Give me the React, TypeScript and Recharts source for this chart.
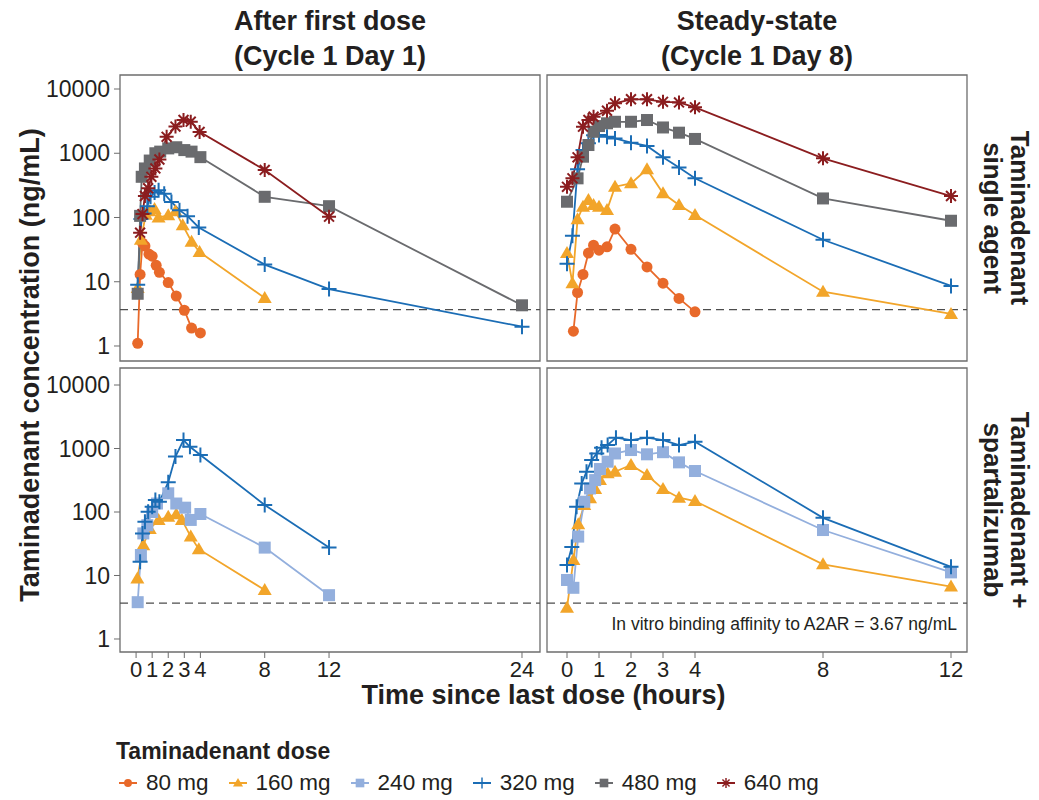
import React from 'react';
import { LineChart, Line, XAxis, YAxis, ReferenceLine, ReferenceArea } from 'recharts';

const FONT = '"Liberation Sans", Arial, sans-serif';
const INK = '#231f20';
const FRAME = '#6d6d6d';

const doseLabels = ['80 mg', '160 mg', '240 mg', '320 mg', '480 mg', '640 mg'];
const doseColors = ['#E8692A', '#F2A52A', '#93AFDD', '#1B6DB5', '#6A6B6E', '#8B1D1F'];
const doseShapes = ['circle', 'triangle', 'square', 'plus', 'square', 'star'];

const bindingAffinity = 3.67;
const yTicks = [1, 10, 100, 1000, 10000];
const xTicksDay1 = [0, 1, 2, 3, 4, 8, 12, 24];
const xTicksDay8 = [0, 1, 2, 3, 4, 8, 12];

// after first dose, single agent
const d1SoloTime80 = [0.1, 0.25, 0.4, 0.55, 0.8, 1.0, 1.25, 1.45, 2, 2.5, 3, 3.45, 4];
const d1SoloConc80 = [1.1, 13, 40, 36, 27, 25, 18, 14, 9.7, 6, 3.6, 1.9, 1.6];
const d1SoloTime160 = [0.1, 0.3, 0.6, 0.85, 1.15, 1.4, 2, 2.45, 2.9, 3.45, 3.95, 8];
const d1SoloConc160 = [8, 45, 110, 125, 136, 100, 108, 125, 76, 42, 29, 5.6];
const d1SoloTime320 = [0.1, 0.3, 0.5, 0.7, 0.9, 1.15, 1.4, 1.75, 2.2, 2.7, 3.2, 3.9, 8, 12, 24];
const d1SoloConc320 = [9, 95, 115, 150, 210, 245, 265, 235, 175, 130, 105, 70, 18.5, 7.7, 2.0];
const d1SoloTime480 = [0.1, 0.25, 0.35, 0.55, 0.85, 1.2, 1.5, 2, 2.5, 3, 3.45, 4, 8, 12, 24];
const d1SoloConc480 = [6.5, 106, 430, 580, 770, 1000, 1060, 1190, 1240, 1120, 1060, 870, 210, 150, 4.3];
const d1SoloTime640 = [0.25, 0.4, 0.55, 0.75, 0.95, 1.2, 1.45, 1.9, 2.45, 2.95, 3.4, 3.95, 8, 12];
const d1SoloConc640 = [58, 113, 216, 285, 430, 580, 800, 1800, 2600, 3300, 3100, 2150, 550, 103];

// steady state, single agent
const d8SoloTime80 = [0.2, 0.33, 0.5, 0.67, 0.83, 1.0, 1.25, 1.5, 2, 2.5, 3, 3.5, 4];
const d8SoloConc80 = [1.7, 6.8, 13, 28, 37, 31, 35, 66, 32, 17, 9.5, 5.5, 3.4];
const d8SoloTime160 = [0, 0.17, 0.33, 0.5, 0.67, 0.83, 1.0, 1.25, 1.5, 2, 2.5, 3, 3.5, 4, 8, 12];
const d8SoloConc160 = [28, 9.5, 94, 147, 188, 157, 147, 131, 302, 340, 564, 238, 157, 109, 7.0, 3.15];
const d8SoloTime320 = [0, 0.17, 0.33, 0.5, 0.67, 0.83, 1.0, 1.25, 1.5, 2, 2.5, 3, 3.5, 4, 8, 12];
const d8SoloConc320 = [19, 52, 565, 1120, 1430, 1900, 1920, 1810, 1700, 1460, 1300, 865, 600, 408, 45, 8.6];
const d8SoloTime480 = [0, 0.33, 0.5, 0.67, 0.83, 1.0, 1.25, 1.5, 2, 2.5, 3, 3.5, 4, 8, 12];
const d8SoloConc480 = [176, 407, 884, 1343, 2160, 2650, 2925, 3090, 3090, 3290, 2520, 2090, 1670, 198, 89];
const d8SoloTime640 = [0, 0.17, 0.33, 0.5, 0.67, 0.83, 1.25, 1.5, 2, 2.5, 3, 3.5, 4, 8, 12];
const d8SoloConc640 = [300, 407, 865, 2590, 3290, 3700, 4590, 5980, 6920, 6920, 6320, 6180, 5190, 835, 216];

// after first dose, + spartalizumab
const d1ComboTime160 = [0.08, 0.45, 0.85, 1.4, 2, 2.5, 2.85, 3.4, 3.9, 8];
const d1ComboConc160 = [9, 30, 54, 75, 84, 92, 75, 41, 26, 5.9];
const d1ComboTime240 = [0.1, 0.3, 0.45, 0.7, 1.0, 1.3, 2, 2.5, 3.05, 3.4, 4, 8, 12];
const d1ComboConc240 = [3.8, 21, 46, 62, 100, 136, 197, 136, 117, 75, 93, 27.5, 4.9];
const d1ComboTime320 = [0.25, 0.4, 0.55, 0.75, 1.0, 1.2, 1.45, 2, 2.45, 2.95, 3.35, 4, 8, 12];
const d1ComboConc320 = [16.5, 46, 70, 101, 121, 155, 145, 295, 745, 1360, 1065, 790, 129, 27.5];

// steady state, + spartalizumab
const d8ComboTime160 = [0, 0.2, 0.35, 0.54, 0.72, 0.88, 1.03, 1.27, 1.5, 2, 2.5, 3, 3.5, 4, 8, 12];
const d8ComboConc160 = [3.1, 17.5, 64, 129, 164, 230, 319, 406, 431, 550, 382, 230, 168, 149, 15, 6.7];
const d8ComboTime240 = [0, 0.2, 0.35, 0.54, 0.72, 0.88, 1.03, 1.27, 1.5, 2, 2.5, 3, 3.5, 4, 8, 12];
const d8ComboConc240 = [8.5, 6.4, 41, 145, 235, 318, 475, 620, 835, 946, 810, 875, 605, 442, 52, 11.2];
const d8ComboTime320 = [0, 0.15, 0.3, 0.46, 0.61, 0.77, 0.93, 1.08, 1.27, 1.53, 2, 2.5, 3, 3.5, 4, 8, 12];
const d8ComboConc320 = [14.6, 28, 121, 281, 431, 660, 835, 1030, 1135, 1480, 1360, 1480, 1360, 1135, 1280, 81, 13.7];

type Pt = { t: number; v: number };
type Series = { dose: number; points: Pt[] };

const pts = (t: number[], v: number[]): Pt[] => t.map((x, i) => ({ t: x, v: v[i] }));

function Marker({ shape, color, cx, cy }: { shape: string; color: string; cx: number; cy: number }) {
  if (shape === 'circle') return <circle cx={cx} cy={cy} r={5.5} fill={color} />;
  if (shape === 'triangle')
    return <polygon points={`${cx},${cy - 7} ${cx + 7},${cy + 5} ${cx - 7},${cy + 5}`} fill={color} />;
  if (shape === 'square') return <rect x={cx - 6} y={cy - 6} width={12} height={12} fill={color} />;
  if (shape === 'plus')
    return <path d={`M${cx - 7.5},${cy}H${cx + 7.5}M${cx},${cy - 7.5}V${cy + 7.5}`} stroke={color} strokeWidth={2} fill="none" />;
  const r = 7;
  const d = r * 0.707;
  return (
    <path
      d={`M${cx - r},${cy}H${cx + r}M${cx},${cy - r}V${cy + r}M${cx - d},${cy - d}L${cx + d},${cy + d}M${cx - d},${cy + d}L${cx + d},${cy - d}`}
      stroke={color}
      strokeWidth={2}
      fill="none"
    />
  );
}

const dotFor = (dose: number) => (p: any) =>
  <Marker key={`d${dose}-${p.index}`} shape={doseShapes[dose]} color={doseColors[dose]} cx={p.cx} cy={p.cy} />;

type PanelProps = {
  left: number;
  top: number;
  width: number;
  height: number;
  margin: { top: number; right: number; bottom: number; left: number };
  xDomain: [number, number];
  xTicks: number[];
  yDomain: [number, number];
  showX: boolean;
  showY: boolean;
  series: Series[];
};

function Panel({ left, top, width, height, margin, xDomain, xTicks, yDomain, showX, showY, series }: PanelProps) {
  return (
    <div style={{ position: 'absolute', left, top }}>
      <LineChart width={width} height={height} margin={margin}>
        <XAxis
          type="number"
          dataKey="t"
          domain={xDomain}
          ticks={xTicks}
          interval={0}
          allowDataOverflow
          hide={!showX}
          height={40}
          axisLine={false}
          tickSize={6}
          tickMargin={3}
          tickLine={{ stroke: FRAME }}
          tick={{ fontSize: 22, fill: INK, fontFamily: FONT }}
        />
        <YAxis
          type="number"
          scale="log"
          domain={yDomain}
          ticks={yTicks}
          interval={0}
          allowDataOverflow
          hide={!showY}
          width={120}
          axisLine={false}
          tickSize={6}
          tickMargin={4}
          tickLine={{ stroke: FRAME }}
          tick={{ fontSize: 23, fill: INK, fontFamily: FONT }}
        />
        <ReferenceArea
          x1={xDomain[0]}
          x2={xDomain[1]}
          y1={yDomain[0]}
          y2={yDomain[1]}
          fill="none"
          stroke={FRAME}
          strokeWidth={1.3}
          ifOverflow="visible"
        />
        <ReferenceLine y={bindingAffinity} stroke="#4d4d4d" strokeWidth={1.3} strokeDasharray="8 5" />
        {series.map((s) => (
          <Line
            key={s.dose}
            data={s.points}
            dataKey="v"
            type="linear"
            stroke={doseColors[s.dose]}
            strokeWidth={1.8}
            dot={dotFor(s.dose)}
            activeDot={false}
            isAnimationActive={false}
          />
        ))}
      </LineChart>
    </div>
  );
}

function LegendIcon({ dose }: { dose: number }) {
  return (
    <svg width={20} height={20} style={{ display: 'block' }}>
      <line x1={1} y1={10} x2={19} y2={10} stroke={doseColors[dose]} strokeWidth={2} />
      <g transform="translate(10,10) scale(0.72) translate(-10,-10)">
        <Marker shape={doseShapes[dose]} color={doseColors[dose]} cx={10} cy={10} />
      </g>
    </svg>
  );
}

export default function App() {
  const topY: [number, number] = [0.584, 16520];
  const botY: [number, number] = [0.624, 18530];
  const day1X: [number, number] = [-1, 25.12];
  const day8X: [number, number] = [-0.625, 12.5];

  const d1Solo: Series[] = [
    { dose: 0, points: pts(d1SoloTime80, d1SoloConc80) },
    { dose: 1, points: pts(d1SoloTime160, d1SoloConc160) },
    { dose: 3, points: pts(d1SoloTime320, d1SoloConc320) },
    { dose: 4, points: pts(d1SoloTime480, d1SoloConc480) },
    { dose: 5, points: pts(d1SoloTime640, d1SoloConc640) },
  ];
  const d8Solo: Series[] = [
    { dose: 0, points: pts(d8SoloTime80, d8SoloConc80) },
    { dose: 1, points: pts(d8SoloTime160, d8SoloConc160) },
    { dose: 3, points: pts(d8SoloTime320, d8SoloConc320) },
    { dose: 4, points: pts(d8SoloTime480, d8SoloConc480) },
    { dose: 5, points: pts(d8SoloTime640, d8SoloConc640) },
  ];
  const d1Combo: Series[] = [
    { dose: 1, points: pts(d1ComboTime160, d1ComboConc160) },
    { dose: 2, points: pts(d1ComboTime240, d1ComboConc240) },
    { dose: 3, points: pts(d1ComboTime320, d1ComboConc320) },
  ];
  const d8Combo: Series[] = [
    { dose: 1, points: pts(d8ComboTime160, d8ComboConc160) },
    { dose: 2, points: pts(d8ComboTime240, d8ComboConc240) },
    { dose: 3, points: pts(d8ComboTime320, d8ComboConc320) },
  ];

  const title: React.CSSProperties = {
    position: 'absolute',
    top: 4,
    width: 420,
    textAlign: 'center',
    fontFamily: FONT,
    fontWeight: 'bold',
    fontSize: 27,
    lineHeight: '35px',
    color: INK,
  };
  const strip: React.CSSProperties = {
    position: 'absolute',
    width: 300,
    textAlign: 'center',
    fontFamily: FONT,
    fontWeight: 'bold',
    fontSize: 26,
    lineHeight: '27px',
    color: INK,
    transform: 'translate(-50%, -50%) rotate(90deg)',
  };

  return (
    <div style={{ position: 'absolute', left: 0, top: 0, width: 1039, height: 800, background: '#fff', fontFamily: FONT }}>
      <div style={{ ...title, left: 120 }}>After first dose<br />(Cycle 1 Day 1)</div>
      <div style={{ ...title, left: 547 }}>Steady-state<br />(Cycle 1 Day 8)</div>

      <Panel left={0} top={70} width={545} height={300} margin={{ top: 5, right: 5, bottom: 9, left: 0 }}
        xDomain={day1X} xTicks={xTicksDay1} yDomain={topY} showX={false} showY series={d1Solo} />
      <Panel left={540} top={70} width={440} height={300} margin={{ top: 5, right: 13, bottom: 9, left: 7 }}
        xDomain={day8X} xTicks={xTicksDay8} yDomain={topY} showX={false} showY={false} series={d8Solo} />
      <Panel left={0} top={363} width={545} height={330} margin={{ top: 5, right: 5, bottom: 1, left: 0 }}
        xDomain={day1X} xTicks={xTicksDay1} yDomain={botY} showX showY series={d1Combo} />
      <Panel left={540} top={363} width={440} height={330} margin={{ top: 5, right: 13, bottom: 1, left: 7 }}
        xDomain={day8X} xTicks={xTicksDay8} yDomain={botY} showX showY={false} series={d8Combo} />

      <div style={{ position: 'absolute', left: 590, top: 614, width: 367, textAlign: 'right', fontSize: 17.5, color: INK }}>
        In vitro binding affinity to A2AR = 3.67 ng/mL
      </div>

      <div style={{
        position: 'absolute', left: 30, top: 365, width: 520, textAlign: 'center', fontWeight: 'bold', fontSize: 27,
        color: INK, transform: 'translate(-50%, -50%) rotate(-90deg)', whiteSpace: 'nowrap',
      }}>
        Taminadenant concentration (ng/mL)
      </div>
      <div style={{ position: 'absolute', left: 120, top: 680, width: 847, textAlign: 'center', fontWeight: 'bold', fontSize: 27, color: INK }}>
        Time since last dose (hours)
      </div>

      <div style={{ ...strip, left: 1006, top: 218 }}>Taminadenant<br />single agent</div>
      <div style={{ ...strip, left: 1006, top: 510 }}>Taminadenant +<br />spartalizumab</div>

      <div style={{ position: 'absolute', left: 116, top: 738, fontWeight: 'bold', fontSize: 23, color: INK }}>
        Taminadenant dose
      </div>
      <div style={{ position: 'absolute', left: 118, top: 770, display: 'flex', alignItems: 'center' }}>
        {doseLabels.map((label, i) => (
          <div key={label} style={{ display: 'flex', alignItems: 'center', marginRight: 19 }}>
            <LegendIcon dose={i} />
            <span style={{ marginLeft: 8, fontSize: 22.5, color: INK }}>{label}</span>
          </div>
        ))}
      </div>
    </div>
  );
}
